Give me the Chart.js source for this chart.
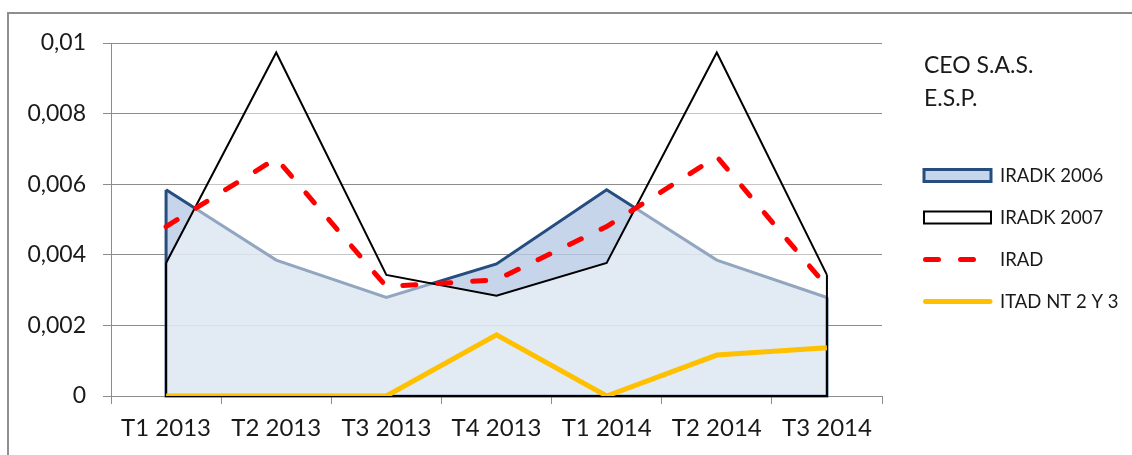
<!DOCTYPE html>
<html>
<head>
<meta charset="utf-8">
<script src="https://cdn.jsdelivr.net/npm/chart.js@4.4.0/dist/chart.umd.min.js"></script>
<style>
html, body { margin: 0; padding: 0; background: #fff; overflow: hidden; }
#frame { position: absolute; left: 7px; top: 12px; width: 1200px; height: 500px; border: 2px solid #8e8e8e; }
#wrap { position: absolute; left: 0; top: 0; width: 1132px; height: 455px; }
</style>
</head>
<body>
<div id="frame"></div>
<div id="wrap"><canvas id="chart" width="1132" height="455"></canvas></div>
<script>
const categories = ['T1 2013', 'T2 2013', 'T3 2013', 'T4 2013', 'T1 2014', 'T2 2014', 'T3 2014'];
const iradk2006 = [0.00584, 0.00385, 0.00279, 0.00374, 0.00584, 0.00385, 0.00279];
const iradk2007 = [0.00377, 0.00973, 0.00343, 0.00284, 0.00377, 0.00973, 0.00343];
const irad = [0.0048, 0.00673, 0.0031, 0.00329, 0.0048, 0.00678, 0.0031];
const itad = [0, 0, 0, 0.00173, 0, 0.00116, 0.00137];
const yTickLabels = ['0', '0,002', '0,004', '0,006', '0,008', '0,01'];
const legendTitle = ['CEO S.A.S.', 'E.S.P.'];

const fontFamily = 'Lato, "Open Sans", sans-serif';

// closes the area outline (sides + baseline) like the original area chart
const areaEdges = {
    id: 'areaEdges',
    afterDatasetDraw(chart, args) {
        const ds = chart.data.datasets[args.index];
        if (!ds.fill) return;
        const pts = args.meta.data;
        const y0 = chart.scales.y.getPixelForValue(0);
        const ctx = chart.ctx;
        ctx.save();
        ctx.strokeStyle = ds.borderColor;
        ctx.lineWidth = ds.borderWidth;
        ctx.lineJoin = 'miter';
        ctx.beginPath();
        ctx.moveTo(pts[0].x, pts[0].y);
        ctx.lineTo(pts[0].x, y0);
        ctx.lineTo(pts[pts.length - 1].x, y0);
        ctx.lineTo(pts[pts.length - 1].x, pts[pts.length - 1].y);
        ctx.stroke();
        ctx.restore();
    }
};

const sideLegend = {
    id: 'sideLegend',
    afterDraw(chart) {
        const ctx = chart.ctx;
        ctx.save();
        ctx.fillStyle = '#1a1a1a';
        ctx.textBaseline = 'alphabetic';
        ctx.font = '23px ' + fontFamily;
        legendTitle.forEach((t, i) => ctx.fillText(t, 924, 73 + i * 33));

        ctx.font = '18.5px ' + fontFamily;
        chart.data.datasets.forEach((ds, i) => {
            const y = 175.5 + i * 42;
            if (ds.fill) {
                ctx.fillStyle = ds.backgroundColor;
                ctx.fillRect(924, y - 6, 67, 12);
                ctx.strokeStyle = ds.borderColor;
                ctx.lineWidth = ds.borderWidth;
                ctx.setLineDash([]);
                ctx.strokeRect(924, y - 6, 67, 12);
            } else {
                ctx.strokeStyle = ds.borderColor;
                ctx.lineWidth = ds.borderWidth;
                ctx.lineCap = 'round';
                ctx.setLineDash(ds.borderDash || []);
                ctx.beginPath();
                ctx.moveTo(925.5, y);
                ctx.lineTo(990, y);
                ctx.stroke();
                ctx.setLineDash([]);
            }
            ctx.fillStyle = '#1a1a1a';
            ctx.textBaseline = 'middle';
            ctx.fillText(ds.label, 1000, y + 1);
        });
        ctx.restore();
    }
};

const chart = new Chart(document.getElementById('chart'), {
    type: 'line',
    data: {
        labels: categories,
        datasets: [
            {
                label: 'IRADK 2006',
                data: iradk2006,
                borderColor: '#254d7f',
                borderWidth: 3,
                backgroundColor: 'rgba(184,203,229,0.8)',
                fill: 'origin',
                order: 4,
            },
            {
                label: 'IRADK 2007',
                data: iradk2007,
                borderColor: '#000000',
                borderWidth: 2,
                backgroundColor: 'rgba(255,255,255,0.5)',
                fill: 'origin',
                order: 3,
            },
            {
                label: 'IRAD',
                data: irad,
                borderColor: '#ff0000',
                borderWidth: 5,
                borderDash: [13, 22],
                borderCapStyle: 'round',
                fill: false,
                order: 2,
            },
            {
                label: 'ITAD NT 2 Y 3',
                data: itad,
                borderColor: '#ffc000',
                borderWidth: 5,
                fill: false,
                order: 1,
            },
        ]
    },
    options: {
        responsive: false,
        animation: false,
        devicePixelRatio: 1,
        layout: {
            padding: { top: 43, right: 250, bottom: 0, left: 0 },
        },
        elements: {
            point: { radius: 0 },
            line: { tension: 0, borderJoinStyle: 'miter' },
        },
        plugins: {
            legend: { display: false },
            tooltip: { enabled: false },
        },
        scales: {
            x: {
                offset: true,
                grid: {
                    offset: true,
                    drawOnChartArea: false,
                    drawTicks: true,
                    tickLength: 8,
                    color: '#8c8c8c',
                },
                border: { color: '#8c8c8c', width: 1 },
                ticks: {
                    color: '#1a1a1a',
                    padding: 10,
                    maxRotation: 0,
                    font: { family: fontFamily, size: 24 },
                },
                afterFit: (s) => { s.height = 59; },
            },
            y: {
                min: 0,
                max: 0.01,
                grid: {
                    color: '#8c8c8c',
                    tickLength: 8,
                },
                border: { color: '#8c8c8c', width: 1 },
                ticks: {
                    stepSize: 0.002,
                    color: '#1a1a1a',
                    padding: 17,
                    font: { family: fontFamily, size: 23 },
                    callback: (value, index) => yTickLabels[index],
                },
                afterFit: (s) => { s.width = 111; },
            },
        },
    },
    plugins: [areaEdges, sideLegend],
});
</script>
</body>
</html>
